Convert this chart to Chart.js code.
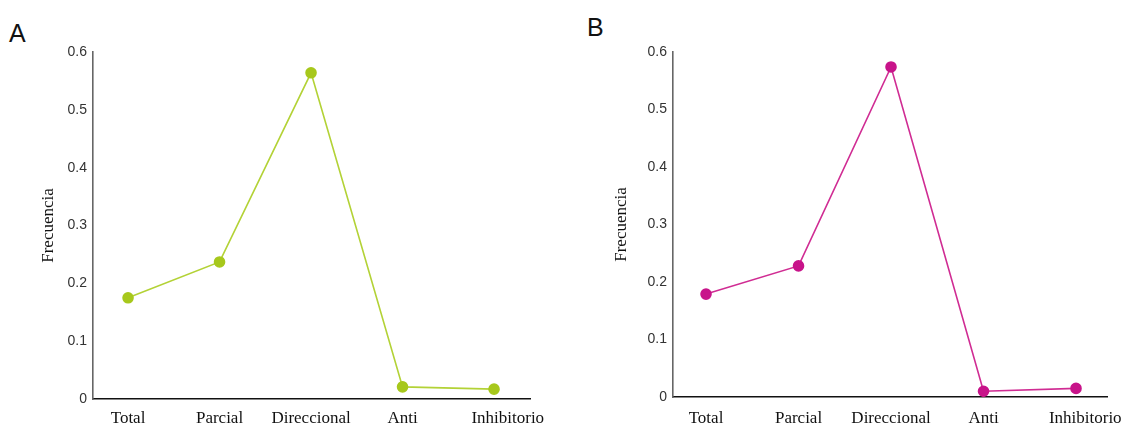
<!DOCTYPE html>
<html>
<head>
<meta charset="utf-8">
<script src="https://cdn.jsdelivr.net/npm/chart.js@4"></script>
<style>
  body { margin: 0; background: #fff; width: 1125px; height: 426px; overflow: hidden; position: relative; }
  .panel { position: absolute; top: 0; height: 426px; }
  .letter { position: absolute; font-family: "Liberation Sans", Arial, sans-serif; font-size: 25px; color: #111; }
</style>
</head>
<body>
<div class="letter" style="left:9px; top:19px;">A</div>
<div class="letter" style="left:587px; top:13px;">B</div>
<div class="panel" style="left:0; width:560px;"><canvas id="chartA"></canvas></div>
<div class="panel" style="left:560px; width:565px;"><canvas id="chartB"></canvas></div>
<script>
// Data
const categories = ["Total", "Parcial", "Direccional", "Anti", "Inhibitorio"];
const freqA = [0.175, 0.237, 0.564, 0.021, 0.017];
const freqB = [0.179, 0.228, 0.574, 0.010, 0.015];
const yTicks = [0, 0.1, 0.2, 0.3, 0.4, 0.5, 0.6];

// Build one panel
function makeChart(ctx, values, lineColor, dotColor, opts) {
  const points = values.map((v, i) => ({ x: i, y: v }));
  return new Chart(ctx, {
    type: "line",
    data: {
      datasets: [{
        data: points,
        borderColor: lineColor,
        backgroundColor: dotColor,
        pointBackgroundColor: dotColor,
        pointBorderColor: dotColor,
        pointRadius: 5,
        borderWidth: 1.6,
        tension: 0,
      }],
    },
    options: {
      responsive: false,
      animation: false,
      layout: { padding: { top: 52, right: opts.padRight, bottom: 0, left: 0 } },
      plugins: { legend: { display: false }, tooltip: { enabled: false } },
      scales: {
        x: {
          type: "linear",
          min: opts.xMin,
          max: opts.xMax,
          grid: { display: false, drawTicks: false },
          border: { display: true, color: "#111", width: 1.6 },
          afterBuildTicks: (scale) => {
            scale.ticks = categories.map((c, i) => ({ value: i === 4 ? i + opts.lastShift : i }));
          },
          afterFit: (scale) => {
            scale.height = opts.xHeight;
            // labels may overhang the plot edges, keep the plot box fixed
            scale.paddingLeft = 0;
            scale.paddingRight = 0;
          },
          ticks: {
            padding: opts.xPad,
            color: "#111",
            maxRotation: 0,
            autoSkip: false,
            font: { family: "'Liberation Serif', 'Times New Roman', serif", size: 17 },
            callback: (v, i) => categories[i],
          },
        },
        y: {
          min: 0,
          max: 0.6,
          grid: { display: false, drawTicks: false },
          border: { display: true, color: "#666", width: 1.6 },
          afterBuildTicks: (scale) => {
            scale.ticks = yTicks.map((v) => ({ value: v }));
          },
          afterFit: (scale) => { scale.width = opts.yWidth; },
          ticks: {
            padding: 6,
            color: "#333",
            font: { family: "'Liberation Sans', Arial, sans-serif", size: 14 },
            callback: (v) => String(Math.round(v * 10) / 10),
          },
          title: {
            display: true,
            text: "Frecuencia",
            color: "#111",
            padding: { top: opts.titlePad, bottom: 0 },
            font: { family: "'Liberation Serif', 'Times New Roman', serif", size: 17 },
          },
        },
      },
    },
  });
}

const canvasA = document.getElementById("chartA");
canvasA.width = 560; canvasA.height = 426;
makeChart(canvasA, freqA, "#b3d236", "#a7c81c", {
  padRight: 30, xMin: -0.383, xMax: 4.393, xHeight: 27, xPad: 9,
  yWidth: 93, titlePad: 38, lastShift: 0.15,
});

const canvasB = document.getElementById("chartB");
canvasB.width = 565; canvasB.height = 426;
makeChart(canvasB, freqB, "#d02c93", "#c8148a", {
  padRight: 18, xMin: -0.357, xMax: 4.335, xHeight: 29, xPad: 11,
  yWidth: 113, titlePad: 51, lastShift: 0.1,
});
</script>
</body>
</html>
